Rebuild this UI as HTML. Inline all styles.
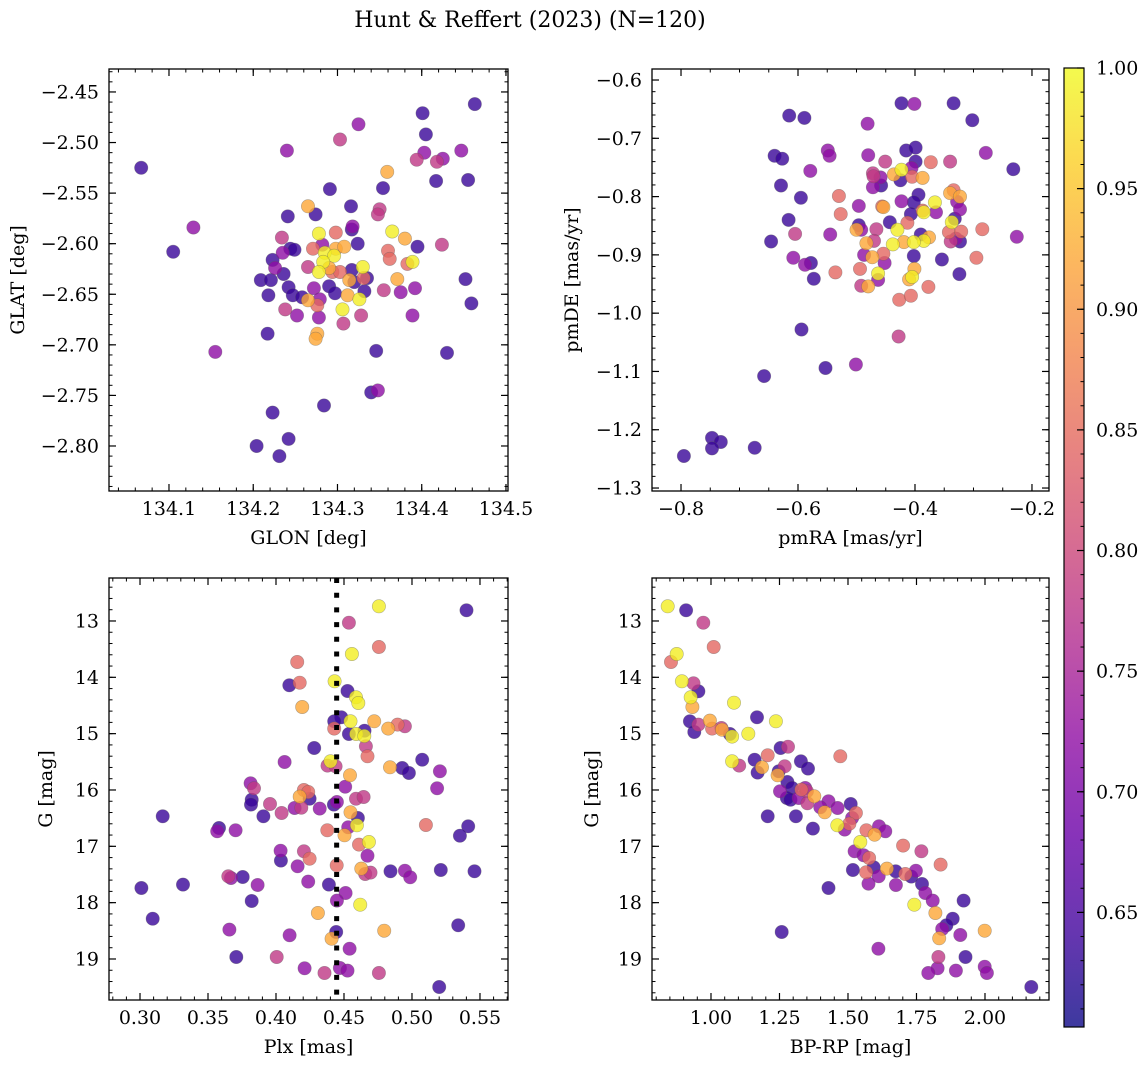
<!DOCTYPE html>
<html><head><meta charset="utf-8"><style>
html,body{margin:0;padding:0;background:#fff;}
svg{display:block;font-family:"DejaVu Serif","Liberation Serif",serif;}
</style></head><body>
<svg id="fig" width="1148" height="1068" viewBox="0 0 1148 1068" xmlns="http://www.w3.org/2000/svg">
<defs>
<linearGradient id="plasmaGrad" x1="0" y1="1" x2="0" y2="0">
<stop offset="0" stop-color="#0d0887"/><stop offset="0.1" stop-color="#41049d"/><stop offset="0.2" stop-color="#6a00a8"/><stop offset="0.3" stop-color="#8f0da4"/><stop offset="0.4" stop-color="#b12a90"/><stop offset="0.5" stop-color="#cc4778"/><stop offset="0.6" stop-color="#e16462"/><stop offset="0.7" stop-color="#f2844b"/><stop offset="0.8" stop-color="#fca636"/><stop offset="0.9" stop-color="#fcce25"/><stop offset="1" stop-color="#f0f921"/>
</linearGradient>
</defs>
<text x="530" y="27" font-size="22" text-anchor="middle">Hunt &amp; Reffert (2023) (N=120)</text>
</svg>
<script>
// ---- Panel 1: GLON / GLAT
const glon=[134.067,134.105,134.129,134.155,134.240,134.325,134.303,134.401,134.405,134.463,134.403,134.394,134.418,134.425,134.447,134.417,134.455,134.359,134.354,134.291,134.265,134.316,134.350,134.348,134.241,134.274,134.318,134.317,134.298,134.278,134.365,134.380,134.234,134.324,134.395,134.424,134.244,134.249,134.235,134.271,134.282,134.298,134.308,134.285,134.296,134.283,134.360,134.362,134.383,134.389,134.223,134.226,134.236,134.265,134.278,134.290,134.294,134.303,134.317,134.330,134.331,134.335,134.314,134.320,134.209,134.221,134.242,134.272,134.290,134.297,134.312,134.332,134.355,134.371,134.375,134.392,134.452,134.459,134.218,134.247,134.258,134.279,134.265,134.276,134.326,134.306,134.238,134.252,134.278,134.328,134.389,134.307,134.217,134.276,134.274,134.346,134.430,134.340,134.348,134.284,134.223,134.242,134.204,134.231];
const glat=[-2.525,-2.608,-2.584,-2.707,-2.508,-2.482,-2.497,-2.471,-2.492,-2.462,-2.510,-2.517,-2.519,-2.516,-2.508,-2.538,-2.537,-2.529,-2.545,-2.546,-2.563,-2.563,-2.566,-2.571,-2.573,-2.571,-2.583,-2.586,-2.589,-2.590,-2.588,-2.595,-2.594,-2.600,-2.603,-2.601,-2.605,-2.606,-2.609,-2.605,-2.601,-2.605,-2.603,-2.609,-2.612,-2.618,-2.607,-2.615,-2.620,-2.618,-2.616,-2.624,-2.630,-2.623,-2.628,-2.624,-2.628,-2.628,-2.626,-2.623,-2.634,-2.634,-2.636,-2.638,-2.636,-2.636,-2.643,-2.644,-2.642,-2.649,-2.651,-2.647,-2.646,-2.635,-2.648,-2.644,-2.635,-2.659,-2.651,-2.651,-2.653,-2.655,-2.656,-2.661,-2.655,-2.665,-2.665,-2.671,-2.673,-2.671,-2.671,-2.679,-2.689,-2.689,-2.694,-2.706,-2.708,-2.747,-2.745,-2.760,-2.767,-2.793,-2.800,-2.810];
const prob1=[.635,.635,.72,.72,.72,.72,.78,.635,.635,.635,.72,.78,.78,.72,.72,.635,.635,.92,.635,.635,.92,.635,.78,.78,.635,.635,.72,.635,.845,.99,.99,.92,.78,.635,.635,.78,.635,.635,.72,.845,.72,.92,.92,.99,.99,.99,.845,.845,.845,.99,.635,.72,.635,.78,.99,.92,.845,.845,.635,.99,.845,.635,.92,.635,.635,.635,.635,.72,.635,.635,.92,.635,.78,.92,.72,.72,.635,.635,.635,.635,.635,.72,.92,.845,.99,.99,.78,.72,.72,.78,.72,.78,.635,.92,.92,.635,.635,.635,.72,.635,.635,.635,.635,.635];
// ---- Panel 2: pmRA / pmDE
const pmra=[-0.615,-0.589,-0.423,-0.401,-0.334,-0.302,-0.481,-0.640,-0.627,-0.549,-0.546,-0.480,-0.415,-0.399,-0.279,-0.451,-0.399,-0.373,-0.340,-0.232,-0.579,-0.472,-0.471,-0.459,-0.436,-0.423,-0.406,-0.405,-0.387,-0.425,-0.472,-0.458,-0.629,-0.334,-0.340,-0.323,-0.595,-0.530,-0.394,-0.423,-0.402,-0.366,-0.328,-0.496,-0.456,-0.454,-0.387,-0.385,-0.364,-0.323,-0.527,-0.407,-0.443,-0.413,-0.332,-0.337,-0.616,-0.496,-0.492,-0.500,-0.466,-0.430,-0.605,-0.545,-0.390,-0.376,-0.385,-0.402,-0.419,-0.438,-0.342,-0.321,-0.339,-0.330,-0.323,-0.285,-0.226,-0.646,-0.470,-0.483,-0.487,-0.454,-0.473,-0.452,-0.402,-0.354,-0.608,-0.588,-0.578,-0.295,-0.536,-0.494,-0.463,-0.324,-0.573,-0.492,-0.480,-0.463,-0.401,-0.410,-0.405,-0.377,-0.427,-0.407,-0.594,-0.428,-0.501,-0.553,-0.658,-0.747,-0.732,-0.747,-0.674,-0.795];
const pmde=[-0.661,-0.665,-0.640,-0.641,-0.640,-0.669,-0.675,-0.730,-0.735,-0.721,-0.730,-0.729,-0.721,-0.716,-0.725,-0.740,-0.740,-0.741,-0.740,-0.753,-0.756,-0.760,-0.765,-0.767,-0.762,-0.754,-0.751,-0.766,-0.768,-0.772,-0.784,-0.781,-0.781,-0.789,-0.794,-0.800,-0.802,-0.799,-0.797,-0.808,-0.810,-0.810,-0.809,-0.816,-0.817,-0.818,-0.824,-0.827,-0.827,-0.822,-0.830,-0.830,-0.844,-0.845,-0.838,-0.844,-0.840,-0.849,-0.857,-0.857,-0.856,-0.857,-0.864,-0.865,-0.865,-0.870,-0.876,-0.878,-0.878,-0.882,-0.861,-0.860,-0.877,-0.872,-0.877,-0.856,-0.869,-0.877,-0.876,-0.880,-0.900,-0.898,-0.904,-0.914,-0.902,-0.908,-0.905,-0.917,-0.914,-0.905,-0.930,-0.924,-0.932,-0.933,-0.941,-0.953,-0.954,-0.943,-0.924,-0.942,-0.938,-0.955,-0.977,-0.970,-1.028,-1.040,-1.088,-1.094,-1.108,-1.214,-1.221,-1.232,-1.231,-1.245];
const prob2=[.635,.635,.635,.72,.635,.635,.72,.635,.635,.72,.72,.72,.635,.635,.72,.78,.635,.845,.78,.635,.72,.78,.78,.72,.92,.99,.72,.845,.92,.635,.72,.635,.635,.845,.92,.92,.635,.845,.635,.72,.635,.99,.72,.72,.845,.92,.845,.99,.72,.72,.845,.635,.635,.845,.635,.99,.635,.635,.72,.92,.78,.99,.78,.72,.635,.92,.99,.99,.92,.99,.845,.845,.78,.72,.635,.845,.72,.635,.78,.92,.72,.845,.92,.72,.635,.635,.72,.72,.635,.845,.845,.845,.99,.635,.635,.78,.92,.72,.92,.92,.99,.845,.845,.845,.635,.78,.72,.635,.635,.635,.635,.635,.635,.635];
// ---- Panel 3: Plx / G
const plx=[0.4757,0.5401,0.4536,0.4757,0.4558,0.4156,0.4098,0.4174,0.4431,0.4526,0.4588,0.4605,0.4193,0.4480,0.4428,0.4548,0.4722,0.4825,0.4894,0.4948,0.4428,0.4536,0.4590,0.4651,0.4649,0.4661,0.4673,0.4281,0.4063,0.4401,0.4379,0.4438,0.4544,0.4838,0.4928,0.4977,0.5075,0.5205,0.5185,0.3813,0.3838,0.4509,0.4205,0.4237,0.4174,0.4247,0.4588,0.4644,0.3821,0.3816,0.3956,0.4137,0.4186,0.4321,0.4426,0.4448,0.4041,0.3907,0.4548,0.4602,0.3167,0.3581,0.3568,0.3703,0.4377,0.4531,0.4595,0.4504,0.5102,0.5413,0.5352,0.4683,0.4610,0.4034,0.4205,0.4247,0.4036,0.4159,0.4673,0.4446,0.4627,0.4656,0.4695,0.4842,0.4948,0.4987,0.5212,0.5460,0.3649,0.3669,0.3755,0.3865,0.4237,0.3010,0.3316,0.4389,0.4512,0.4448,0.4619,0.3821,0.4308,0.3093,0.5340,0.3657,0.4100,0.4443,0.4409,0.4796,0.4541,0.3708,0.4005,0.4210,0.4357,0.4470,0.4526,0.4757,0.5200];
const gmag1=[12.740,12.811,13.030,13.462,13.586,13.728,14.142,14.095,14.071,14.243,14.355,14.456,14.527,14.710,14.781,14.781,14.781,14.911,14.840,14.870,14.911,15.006,15.006,14.947,15.041,15.225,15.402,15.254,15.503,15.491,15.568,15.580,15.740,15.598,15.609,15.698,15.462,15.669,15.970,15.882,15.970,15.941,16.000,16.036,16.118,16.154,16.154,16.124,16.172,16.260,16.249,16.320,16.314,16.331,16.260,16.213,16.408,16.467,16.396,16.497,16.467,16.675,16.734,16.716,16.716,16.663,16.627,16.805,16.621,16.645,16.811,16.923,16.970,17.077,17.089,17.219,17.254,17.355,17.166,17.337,17.396,17.491,17.467,17.444,17.432,17.550,17.420,17.444,17.533,17.562,17.544,17.686,17.627,17.740,17.680,17.680,17.828,17.964,18.036,17.970,18.183,18.284,18.402,18.479,18.580,18.521,18.639,18.497,18.817,18.964,18.964,19.166,19.249,19.160,19.207,19.249,19.497];
const prob3=[.99,.635,.78,.845,.99,.845,.635,.845,.99,.635,.99,.99,.92,.635,.635,.99,.92,.92,.845,.78,.845,.635,.99,.635,.99,.78,.845,.635,.72,.99,.78,.78,.92,.92,.635,.635,.635,.72,.72,.72,.78,.72,.845,.845,.92,.635,.78,.78,.635,.635,.78,.72,.78,.72,.635,.72,.78,.635,.92,.635,.635,.635,.72,.72,.845,.72,.99,.92,.845,.635,.635,.99,.845,.72,.78,.845,.635,.72,.72,.845,.92,.78,.78,.635,.72,.72,.635,.635,.78,.72,.635,.72,.72,.635,.635,.635,.72,.72,.99,.635,.92,.635,.635,.72,.72,.635,.92,.92,.72,.635,.78,.72,.78,.72,.72,.78,.635];
// ---- Panel 4: BP-RP / G
const bprp=[0.842,0.909,0.972,1.010,0.875,0.854,0.894,0.936,0.954,0.926,0.932,0.923,0.954,0.939,0.996,1.004,1.038,1.040,1.069,1.077,1.084,1.136,1.168,1.237,1.254,1.281,1.472,1.077,1.103,1.159,1.170,1.207,1.186,1.247,1.269,1.243,1.328,1.354,1.279,1.252,1.296,1.277,1.290,1.320,1.330,1.350,1.344,1.377,1.352,1.429,1.399,1.415,1.462,1.510,1.529,1.515,1.505,1.461,1.488,1.567,1.613,1.636,1.597,1.545,1.207,1.310,1.372,1.524,1.557,1.577,1.594,1.642,1.674,1.709,1.748,1.731,1.518,1.566,1.612,1.575,1.675,1.770,1.782,1.809,1.701,1.768,1.838,1.922,1.742,1.819,1.882,1.859,1.844,1.910,1.833,1.999,1.429,1.258,1.611,1.830,1.929,1.827,1.793,1.894,1.999,2.007,2.169];
const gmag2=[12.740,12.811,13.030,13.462,13.586,13.728,14.071,14.107,14.249,14.355,14.527,14.781,14.840,14.970,14.769,14.911,14.899,14.929,15.006,15.053,14.450,15.000,14.710,14.781,15.254,15.231,15.402,15.491,15.568,15.462,15.692,15.385,15.598,15.669,15.580,15.740,15.491,15.621,15.858,16.024,15.964,16.142,16.172,16.142,15.994,16.024,15.964,16.112,16.237,16.201,16.308,16.396,16.320,16.249,16.408,16.497,16.598,16.627,16.704,16.716,16.645,16.734,16.793,16.923,16.467,16.467,16.686,17.089,17.160,17.207,17.373,17.396,17.444,17.491,17.432,17.538,17.420,17.462,17.533,17.663,17.686,17.669,17.828,17.964,16.988,17.089,17.325,17.964,18.036,18.183,18.284,18.402,18.467,18.574,18.633,18.497,17.740,18.521,18.817,18.964,18.964,19.166,19.249,19.207,19.136,19.249,19.497];
const prob4=[.99,.635,.78,.845,.99,.845,.99,.78,.635,.99,.92,.635,.78,.635,.92,.845,.78,.92,.635,.99,.99,.99,.635,.99,.635,.78,.845,.99,.78,.635,.635,.845,.92,.635,.78,.92,.635,.635,.635,.72,.635,.635,.635,.72,.845,.78,.72,.92,.78,.72,.72,.92,.72,.635,.845,.72,.845,.99,.72,.845,.72,.72,.92,.99,.635,.635,.635,.72,.72,.845,.635,.92,.635,.845,.72,.635,.635,.845,.72,.72,.72,.635,.72,.72,.845,.78,.845,.635,.99,.92,.635,.635,.72,.72,.92,.92,.635,.635,.72,.78,.635,.72,.72,.72,.72,.72,.635];
// ---- tick labels
const ticks1x=[134.1,134.2,134.3,134.4,134.5], ticks1y=[-2.45,-2.50,-2.55,-2.60,-2.65,-2.70,-2.75,-2.80];
const ticks2x=[-0.8,-0.6,-0.4,-0.2], ticks2y=[-0.6,-0.7,-0.8,-0.9,-1.0,-1.1,-1.2,-1.3];
const ticks3x=[0.30,0.35,0.40,0.45,0.50,0.55], ticks3y=[13,14,15,16,17,18,19];
const ticks4x=[1.00,1.25,1.50,1.75,2.00], ticks4y=[13,14,15,16,17,18,19];
const cbTicks=[0.65,0.70,0.75,0.80,0.85,0.90,0.95,1.00];
const plxLine=0.4446;
const cbMin=0.6025, cbMax=1.0;

const NS="http://www.w3.org/2000/svg";
const svg=document.getElementById('fig');
const TICK_FS=19, LABEL_FS=19;
function mk(tag,attrs,parent){const e=document.createElementNS(NS,tag);for(const k in attrs)e.setAttribute(k,attrs[k]);(parent||svg).appendChild(e);return e;}
const stops=[[13,8,135],[65,4,157],[106,0,168],[143,13,164],[177,42,144],[204,71,120],[225,100,98],[242,132,75],[252,166,54],[252,206,37],[240,249,33]];
function plasma(v){let t=(v-cbMin)/(cbMax-cbMin);t=Math.max(0,Math.min(1,t));const f=t*10,i=Math.min(9,Math.floor(f)),r=f-i;const a=stops[i],b=stops[i+1];return `rgb(${Math.round(a[0]+(b[0]-a[0])*r)},${Math.round(a[1]+(b[1]-a[1])*r)},${Math.round(a[2]+(b[2]-a[2])*r)})`;}
function fmt(v,d){return (v<0?'\u2212':'')+Math.abs(v).toFixed(d);}

function panel(o){
  const g=mk('g',{});
  
  
  const sx=v=>o.x0+(v-o.xd[0])/(o.xd[1]-o.xd[0])*(o.x1-o.x0);
  const sy=o.inv?(v=>o.y0+(v-o.yd[0])/(o.yd[1]-o.yd[0])*(o.y1-o.y0)):(v=>o.y1-(v-o.yd[0])/(o.yd[1]-o.yd[0])*(o.y1-o.y0));
  const clipId=o.name+'-clip';
  const cp=mk('clipPath',{id:clipId},g);mk('rect',{x:o.x0,y:o.y0,width:o.x1-o.x0,height:o.y1-o.y0},cp);
  const pts=mk('g',{'clip-path':`url(#${clipId})`},g);
  const idx=o.xs.map((_,i)=>i).sort((a,b)=>o.ps[a]-o.ps[b]);
  idx.forEach(i=>{
    const c=mk('circle',{cx:sx(o.xs[i]).toFixed(1),cy:sy(o.ys[i]).toFixed(1),r:6.7,fill:plasma(o.ps[i]),'fill-opacity':0.8,stroke:'rgba(90,90,90,0.45)','stroke-width':0.6},pts);
    
    
  });
  if(o.vline!==undefined){
    const l=mk('line',{x1:sx(o.vline),x2:sx(o.vline),y1:o.y0,y2:o.y1,stroke:'#000','stroke-width':5,'stroke-dasharray':'5 9.7'},pts);
    
    
  }
  const eps=1e-9;
  for(let v=Math.ceil(o.xd[0]/o.xmin-eps)*o.xmin;v<=o.xd[1]+eps;v+=o.xmin){const X=sx(v);
    mk('line',{x1:X,x2:X,y1:o.y1,y2:o.y1-3.5,stroke:'#000','stroke-width':1},g);mk('line',{x1:X,x2:X,y1:o.y0,y2:o.y0+3.5,stroke:'#000','stroke-width':1},g);}
  const ylo=Math.min(o.yd[0],o.yd[1]),yhi=Math.max(o.yd[0],o.yd[1]);
  for(let v=Math.ceil(ylo/o.ymin-eps)*o.ymin;v<=yhi+eps;v+=o.ymin){const Y=sy(v);
    mk('line',{x1:o.x0,x2:o.x0+3.5,y1:Y,y2:Y,stroke:'#000','stroke-width':1},g);mk('line',{x1:o.x1,x2:o.x1-3.5,y1:Y,y2:Y,stroke:'#000','stroke-width':1},g);}
  o.tx.forEach(v=>{const X=sx(v);
    mk('line',{x1:X,x2:X,y1:o.y1,y2:o.y1-7,stroke:'#000','stroke-width':1.2},g);mk('line',{x1:X,x2:X,y1:o.y0,y2:o.y0+7,stroke:'#000','stroke-width':1.2},g);
    const t=mk('text',{x:X,y:o.y1+24,'font-size':TICK_FS,'text-anchor':'middle'},g);t.textContent=fmt(v,o.xdp);
    });
  o.ty.forEach(v=>{const Y=sy(v);
    mk('line',{x1:o.x0,x2:o.x0+7,y1:Y,y2:Y,stroke:'#000','stroke-width':1.2},g);mk('line',{x1:o.x1,x2:o.x1-7,y1:Y,y2:Y,stroke:'#000','stroke-width':1.2},g);
    const t=mk('text',{x:o.x0-10,y:Y+6.5,'font-size':TICK_FS,'text-anchor':'end'},g);t.textContent=fmt(v,o.ydp);
    });
  const fr=mk('rect',{x:o.x0,y:o.y0,width:o.x1-o.x0,height:o.y1-o.y0,fill:'none',stroke:'#000','stroke-width':1.3},g);
  
  const xl=mk('text',{x:(o.x0+o.x1)/2,y:o.y1+53,'font-size':LABEL_FS,'text-anchor':'middle'},g);xl.textContent=o.xlabel;
  
  const cy=(o.y0+o.y1)/2;
  const yl=mk('text',{x:o.ylx,y:cy,'font-size':LABEL_FS,'text-anchor':'middle',transform:`rotate(-90 ${o.ylx} ${cy})`},g);yl.textContent=o.ylabel;
  
}

panel({name:'glon-glat-panel',x0:109,x1:508,y0:69,y1:491,xd:[134.0288,134.5024],yd:[-2.8445,-2.4273],xs:glon,ys:glat,ps:prob1,tx:ticks1x,ty:ticks1y,xmin:0.02,ymin:0.01,xdp:1,ydp:2,xlabel:'GLON [deg]',ylabel:'GLAT [deg]',ylx:24});
panel({name:'proper-motion-panel',x0:652,x1:1049,y0:69,y1:491,xd:[-0.8496,-0.1709],yd:[-1.3051,-0.5811],xs:pmra,ys:pmde,ps:prob2,tx:ticks2x,ty:ticks2y,xmin:0.05,ymin:0.02,xdp:1,ydp:1,xlabel:'pmRA [mas/yr]',ylabel:'pmDE [mas/yr]',ylx:578});
panel({name:'parallax-magnitude-panel',x0:109,x1:508,y0:578,y1:1000,xd:[0.2772,0.5706],yd:[12.237,19.728],inv:true,xs:plx,ys:gmag1,ps:prob3,tx:ticks3x,ty:ticks3y,xmin:0.01,ymin:0.2,xdp:2,ydp:0,xlabel:'Plx [mas]',ylabel:'G [mag]',ylx:52,vline:plxLine});
panel({name:'color-magnitude-panel',x0:652,x1:1049,y0:578,y1:1000,xd:[0.7847,2.2336],yd:[12.237,19.728],inv:true,xs:bprp,ys:gmag2,ps:prob4,tx:ticks4x,ty:ticks4y,xmin:0.05,ymin:0.2,xdp:2,ydp:0,xlabel:'BP-RP [mag]',ylabel:'G [mag]',ylx:598});

// colorbar
const cb=mk('g',{});


const cbx0=1064,cbx1=1084,cby0=68,cby1=1027;
const cys=v=>cby1-(v-cbMin)/(cbMax-cbMin)*(cby1-cby0);
mk('rect',{x:cbx0,y:cby0,width:cbx1-cbx0,height:cby1-cby0,fill:'url(#plasmaGrad)','fill-opacity':0.8},cb);
mk('rect',{x:cbx0,y:cby0,width:cbx1-cbx0,height:cby1-cby0,fill:'none',stroke:'#000','stroke-width':1.2},cb);
for(let v=0.61;v<=1.0001;v+=0.01){const Y=cys(v);mk('line',{x1:cbx1,x2:cbx1-3.5,y1:Y,y2:Y,stroke:'#000','stroke-width':1},cb);}
cbTicks.forEach(v=>{const Y=cys(v);mk('line',{x1:cbx1,x2:cbx1-7,y1:Y,y2:Y,stroke:'#000','stroke-width':1.2},cb);
  const t=mk('text',{x:1096,y:Y+6.5,'font-size':TICK_FS},cb);t.textContent=v.toFixed(2);
  });
</script>
</body></html>
